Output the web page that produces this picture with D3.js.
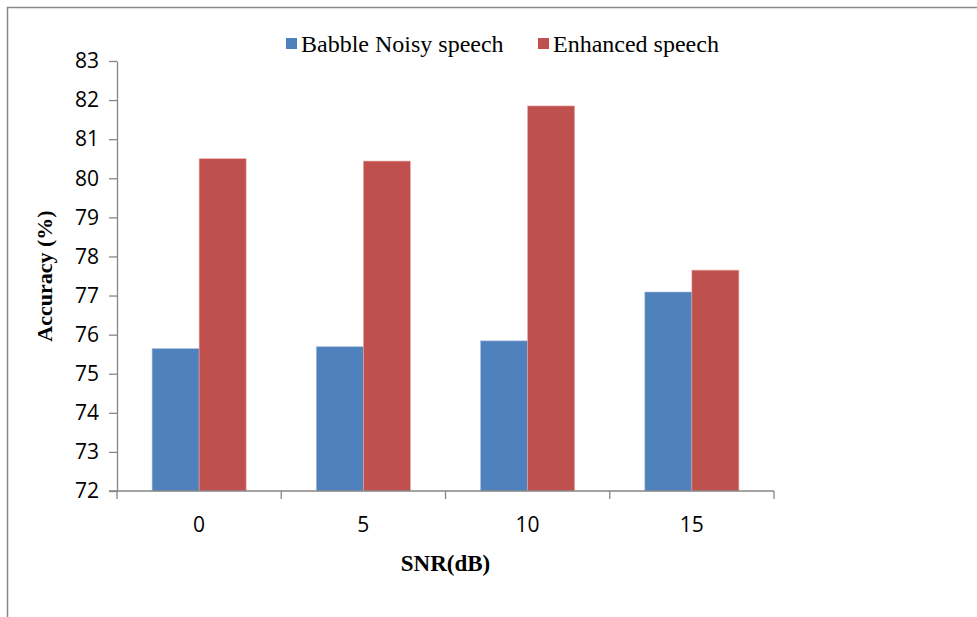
<!DOCTYPE html>
<html><head><meta charset="utf-8">
<script src="https://cdn.jsdelivr.net/npm/d3@7"></script>
<style>body{margin:0;background:#fff;} svg{display:block;}</style>
</head><body>
<script>
const categories = ["0", "5", "10", "15"];
const seriesNames = ["Babble Noisy speech", "Enhanced speech"];
const babble = [75.64, 75.69, 75.84, 77.09];
const enhanced = [80.50, 80.44, 81.85, 77.65];
const yTicks = [72, 73, 74, 75, 76, 77, 78, 79, 80, 81, 82, 83];
const colors = ["#4F81BD", "#C0504D"];

(function () {
const W = 977, H = 617;
const svg = d3.select("body").append("svg").attr("width", W).attr("height", H);

// outer frame (top + left)
svg.append("line").attr("x1", 7).attr("x2", W).attr("y1", 7.5).attr("y2", 7.5).attr("stroke", "#888").attr("stroke-width", 1.5);
svg.append("line").attr("x1", 7.5).attr("x2", 7.5).attr("y1", 7).attr("y2", H).attr("stroke", "#888").attr("stroke-width", 1.5);

const pL = 117, pR = 774, pT = 61, pB = 491;
const x0 = d3.scaleBand().domain(categories).range([pL, pR]).paddingInner(0).paddingOuter(0);
const x1 = d3.scaleBand().domain([0, 1]).range([0, x0.bandwidth()]).paddingInner(0).paddingOuter(0.747);
const y = d3.scaleLinear().domain([72, 83]).range([pB, pT]);

const data = categories.map((c, i) => ({c, vals: [babble[i], enhanced[i]]}));
const g = svg.append("g");
g.selectAll("g.cat").data(data).join("g").attr("class", "cat")
  .attr("transform", d => `translate(${x0(d.c)},0)`)
  .selectAll("rect").data(d => d.vals.map((v, k) => ({v, k})))
  .join("rect")
  .attr("x", d => x1(d.k)).attr("width", x1.bandwidth())
  .attr("y", d => y(d.v)).attr("height", d => pB - y(d.v))
  .attr("fill", d => colors[d.k])
  .attr("stroke", d => d.k === 0 ? "#9db6d9" : "#e3a9a7").attr("stroke-width", 0.6);

const tickFont = "'Open Sans', 'Noto Sans', sans-serif";
// y axis
const yAxis = d3.axisLeft(y).tickValues(yTicks).tickSize(8).tickSizeOuter(0).tickPadding(10);
const ya = svg.append("g").attr("transform", `translate(${pL},0)`).call(yAxis);
ya.select(".domain").attr("stroke", "#868686").attr("stroke-width", 1.3);
ya.selectAll(".tick line").attr("stroke", "#868686").attr("stroke-width", 1.3);
ya.selectAll(".tick text").attr("font-family", tickFont).attr("font-size", 21).attr("fill", "#000");

// x axis
const xEdge = d3.scaleLinear().domain([0, categories.length]).range([pL, pR]);
svg.append("line").attr("x1", pL - 8).attr("x2", pR).attr("y1", pB).attr("y2", pB).attr("stroke", "#868686").attr("stroke-width", 1.3);
svg.selectAll("line.xt").data(d3.range(categories.length + 1)).join("line").attr("class", "xt")
  .attr("x1", d => xEdge(d)).attr("x2", d => xEdge(d)).attr("y1", pB).attr("y2", pB + 8)
  .attr("stroke", "#868686").attr("stroke-width", 1.3);
svg.selectAll("text.xl").data(categories).join("text").attr("class", "xl")
  .attr("x", d => x0(d) + x0.bandwidth() / 2).attr("y", 532)
  .attr("text-anchor", "middle").attr("font-family", tickFont).attr("font-size", 21).text(d => d);

// axis titles
svg.append("text").attr("x", (pL + pR) / 2).attr("y", 571).attr("text-anchor", "middle")
  .attr("font-family", "'Liberation Serif', serif").attr("font-weight", "bold").attr("font-size", 23).text("SNR(dB)");
svg.append("text").attr("transform", "translate(52,276) rotate(-90)").attr("text-anchor", "middle")
  .attr("font-family", "'Liberation Serif', serif").attr("font-weight", "bold").attr("font-size", 22).text("Accuracy (%)");

// legend
const legX = [286, 538];
seriesNames.forEach((n, k) => {
  svg.append("rect").attr("x", legX[k]).attr("y", 38).attr("width", 11).attr("height", 11).attr("fill", colors[k]);
  svg.append("text").attr("x", legX[k] + 15).attr("y", 52).attr("font-family", "'Liberation Serif', serif").attr("font-size", 24).text(n);
});
})();
</script>
</body></html>
